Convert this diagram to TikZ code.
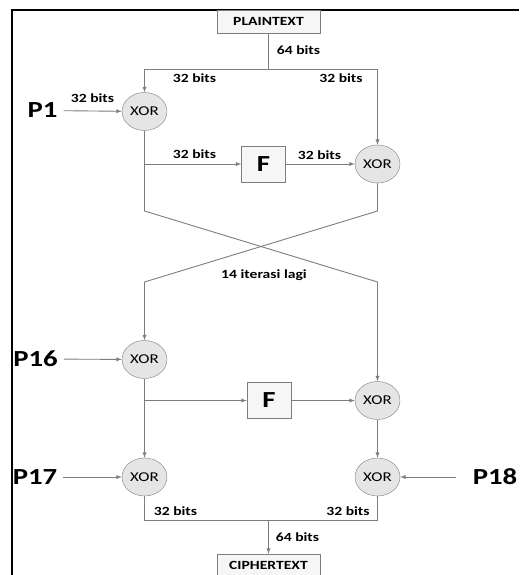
\documentclass[tikz,border=0pt]{standalone}
\usepackage{fontspec}
\setmainfont{Carlito}[FakeStretch=1.25]
\usetikzlibrary{shapes.geometric, arrows}
\definecolor{linegray}{RGB}{125,125,125}
\tikzstyle{textbox} = [rectangle, minimum width=103pt, minimum height=23pt, inner sep=0pt, text centered, draw=linegray, fill=gray!7, font=\bfseries\fontsize{12.5}{14}\selectfont]
\tikzstyle{xor} = [ellipse, minimum width=45pt, minimum height=38pt, inner sep=0pt, draw=linegray, fill=gray!20, font=\fontsize{13.5}{15}\selectfont]
\tikzstyle{fbox} = [rectangle, minimum width=44pt, minimum height=36pt, inner sep=0pt, draw=linegray, fill=gray!7, font=\bfseries\fontsize{23}{26}\selectfont]
\tikzstyle{key} = [inner sep=0pt, font=\bfseries\fontsize{23}{26}\selectfont]
\tikzstyle{bits} = [inner sep=0pt, font=\bfseries\fontsize{12.5}{14}\selectfont]
\tikzstyle{link} = [draw=linegray, line width=0.9pt]
\tikzstyle{arrow} = [link,->,>=latex]
\begin{document}
\begin{tikzpicture}[x=1pt, y=-1pt]

    \useasboundingbox (0,0) rectangle (519,575);
    \draw [line width=2pt] (12,575) -- (12,10) -- (519,10);

    % Nodes
    \node (plain) [textbox] at (268.5,21.5) {PLAINTEXT};
    \node (xora) [xor] at (144.5,111.5) {XOR};
    \node (fa) [fbox] at (263.5,164) {F};
    \node (xorb) [xor] at (377.5,164) {XOR};
    \node (xorc) [xor] at (144.5,359.5) {XOR};
    \node (fb) [fbox] at (269,400.5) {F};
    \node (xord) [xor] at (377.5,400.5) {XOR};
    \node (xore) [xor] at (144.5,477) {XOR};
    \node (xorf) [xor] at (377.5,477) {XOR};
    \node (cipher) [textbox] at (268.5,565.5) {CIPHERTEXT};

    % Subkeys
    \node (p1) [key] at (42.5,110.5) {P1};
    \node (p16) [key] at (35.5,359) {P16};
    \node (p17) [key] at (35,477) {P17};
    \node (p18) [key] at (495,477) {P18};

    % Labels
    \node (bitsin) [bits] at (298.5,50) {64 bits};
    \node (bitsl) [bits] at (194.5,78) {32 bits};
    \node (bitsr) [bits] at (341,78) {32 bits};
    \node (bitsp) [bits] at (92.5,98) {32 bits};
    \node (bitsfin) [bits] at (194.5,154) {32 bits};
    \node (bitsfout) [bits] at (319.5,155) {32 bits};
    \node (iter) [bits] at (264,275) {14 iterasi lagi};
    \node (bitsel) [bits] at (175.5,511) {32 bits};
    \node (bitser) [bits] at (348,511) {32 bits};
    \node (bitsout) [bits] at (297.5,537) {64 bits};

    % Junctions
    \coordinate (split) at (268.5,69);
    \coordinate (bra) at (144.5,164);
    \coordinate (brb) at (144.5,400.5);
    \coordinate (la) at (144.5,211);
    \coordinate (ra) at (377.5,211);
    \coordinate (lb) at (144.5,282);
    \coordinate (rb) at (377.5,282);
    \coordinate (join) at (268.5,520);

    % Arrows
    \draw [link] (plain) -- (split);
    \draw [arrow] (split) -| (xora);
    \draw [arrow] (split) -| (xorb);
    \draw [arrow, shorten <=6pt] (p1) -- (xora);
    \draw [arrow] (bra) -- (fa);
    \draw [arrow] (fa) -- (xorb);

    % Swap
    \draw [arrow] (xora) -- (la) -- (rb) -- (xord);
    \draw [arrow] (xorb) -- (ra) -- (lb) -- (xorc);

    % Last round
    \draw [arrow, shorten <=6pt] (p16) -- (xorc);
    \draw [arrow] (brb) -- (fb);
    \draw [arrow] (fb) -- (xord);
    \draw [arrow] (xorc) -- (xore);
    \draw [arrow] (xord) -- (xorf);
    \draw [arrow, shorten <=6pt] (p17) -- (xore);
    \draw [arrow, shorten <=17pt] (p18) -- (xorf);

    % Output
    \draw [link] (xore) -- (xore |- join) -- (xorf |- join) -- (xorf);
    \draw [arrow] (join) -- (cipher);

\end{tikzpicture}
\end{document}
